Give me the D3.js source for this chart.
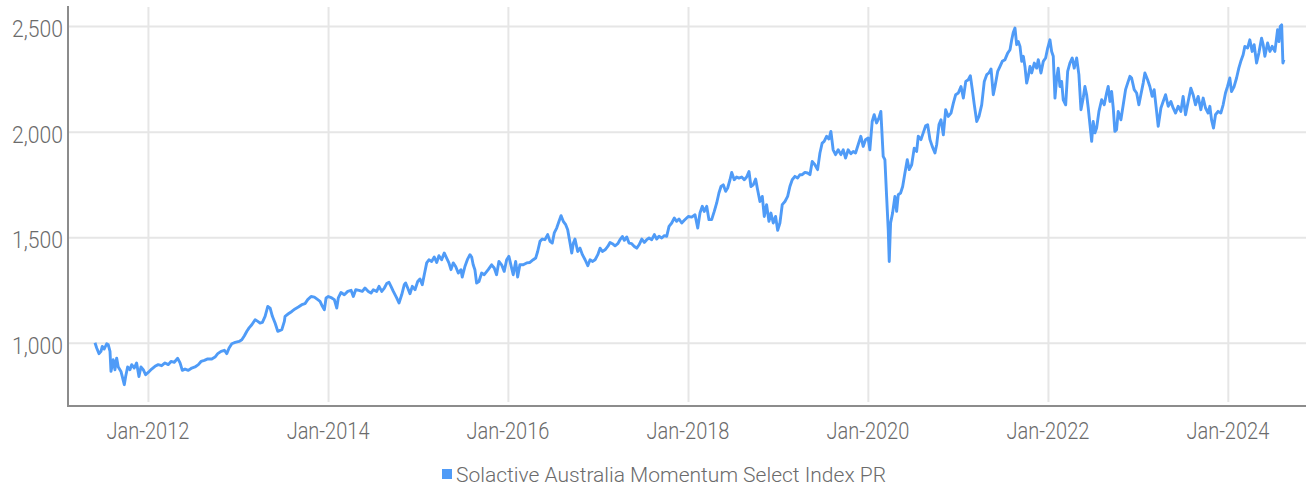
<!DOCTYPE html>
<html lang="en">
<head>
  <meta charset="UTF-8" />
  <title>Solactive Australia Momentum Select Index PR</title>
  <script src="https://d3js.org/d3.v7.min.js"></script>
  <style>
    body {
      margin: 0;
      background: #fff;
      font-family: Roboto, "Open Sans", sans-serif;
    }
    svg { display: block; background: #fff; }
    .grid line { stroke: #e6e6e6; stroke-width: 2px; }
    .axis-line { stroke: #8c8c8c; stroke-width: 2px; }
    .tick-label { font-size: 23px; font-weight: 300; fill: #6b6b6b; }
    .legend-label { font-size: 21px; font-weight: 300; fill: #6b6b6b; }
  </style>
</head>
<body>
  <svg width="1306" height="488"></svg>

  <script>
    // decimal years and index levels
    const years = [
      2011.411, 2011.430, 2011.456, 2011.478, 2011.492, 2011.514, 2011.541, 2011.559, 2011.578, 2011.589,
      2011.614, 2011.633, 2011.652, 2011.670, 2011.700, 2011.737, 2011.752, 2011.774, 2011.800, 2011.819,
      2011.848, 2011.874, 2011.900, 2011.922, 2011.948, 2011.974,
      2012.003, 2012.041, 2012.078, 2012.114, 2012.152, 2012.189, 2012.226, 2012.256, 2012.292, 2012.330,
      2012.356, 2012.381, 2012.411, 2012.448, 2012.486, 2012.522, 2012.559, 2012.589, 2012.626, 2012.663,
      2012.708, 2012.744, 2012.774, 2012.811, 2012.848, 2012.874, 2012.900, 2012.930, 2012.967,
      2013.011, 2013.041, 2013.070, 2013.097, 2013.122, 2013.152, 2013.189, 2013.219, 2013.244, 2013.270,
      2013.300, 2013.330, 2013.356, 2013.381, 2013.411, 2013.441, 2013.486, 2013.514, 2013.522, 2013.559,
      2013.597, 2013.633, 2013.670, 2013.708, 2013.744, 2013.774, 2013.811, 2013.848, 2013.886, 2013.911,
      2013.937, 2013.959, 2013.978,
      2014.003, 2014.041, 2014.070, 2014.097, 2014.114, 2014.144, 2014.181, 2014.219, 2014.256, 2014.281,
      2014.308, 2014.344, 2014.381, 2014.411, 2014.448, 2014.478, 2014.503, 2014.541, 2014.567, 2014.597,
      2014.626, 2014.652, 2014.678, 2014.700, 2014.726, 2014.763, 2014.789, 2014.819, 2014.848, 2014.863,
      2014.886, 2014.911, 2014.937, 2014.967, 2014.997,
      2015.022, 2015.048, 2015.070, 2015.097, 2015.122, 2015.152, 2015.181, 2015.208, 2015.233, 2015.263,
      2015.292, 2015.319, 2015.344, 2015.367, 2015.392, 2015.419, 2015.448, 2015.478, 2015.492, 2015.522,
      2015.552, 2015.578, 2015.597, 2015.614, 2015.633, 2015.652, 2015.678, 2015.708, 2015.737, 2015.781,
      2015.819, 2015.848, 2015.874, 2015.900, 2015.930, 2015.959, 2015.986,
      2016.011, 2016.033, 2016.059, 2016.086, 2016.108, 2016.133, 2016.170, 2016.208, 2016.244, 2016.281,
      2016.308, 2016.330, 2016.356, 2016.381, 2016.411, 2016.441, 2016.467, 2016.492, 2016.514, 2016.541,
      2016.567, 2016.589, 2016.614, 2016.641, 2016.663, 2016.689, 2016.708, 2016.726, 2016.744, 2016.774,
      2016.800, 2016.826, 2016.856, 2016.886, 2016.911, 2016.937, 2016.967, 2016.997,
      2017.022, 2017.048, 2017.078, 2017.108, 2017.133, 2017.159, 2017.189, 2017.219, 2017.244, 2017.270,
      2017.292, 2017.319, 2017.344, 2017.374, 2017.403, 2017.430, 2017.456, 2017.486, 2017.514, 2017.541,
      2017.567, 2017.597, 2017.626, 2017.652, 2017.678, 2017.708, 2017.737, 2017.763, 2017.789, 2017.819,
      2017.848, 2017.874, 2017.900, 2017.930, 2017.959,
      2018.003, 2018.041, 2018.078, 2018.108, 2018.133, 2018.159, 2018.181, 2018.208, 2018.233, 2018.263,
      2018.292, 2018.319, 2018.344, 2018.367, 2018.392, 2018.419, 2018.441, 2018.467, 2018.486, 2018.514,
      2018.541, 2018.567, 2018.597, 2018.626, 2018.652, 2018.678, 2018.700, 2018.726, 2018.752, 2018.774,
      2018.800, 2018.826, 2018.848, 2018.874, 2018.900, 2018.922, 2018.948, 2018.974, 2018.997,
      2019.022, 2019.048, 2019.078, 2019.108, 2019.133, 2019.159, 2019.189, 2019.219, 2019.244, 2019.270,
      2019.300, 2019.330, 2019.356, 2019.381, 2019.411, 2019.441, 2019.467, 2019.492, 2019.514, 2019.541,
      2019.567, 2019.589, 2019.614, 2019.641, 2019.670, 2019.700, 2019.726, 2019.752, 2019.781, 2019.811,
      2019.837, 2019.863, 2019.892, 2019.922, 2019.948, 2019.974,
      2020.003, 2020.022, 2020.048, 2020.070, 2020.097, 2020.122, 2020.144, 2020.170, 2020.189, 2020.208,
      2020.226, 2020.237, 2020.252, 2020.274, 2020.300, 2020.319, 2020.337, 2020.363, 2020.386, 2020.411,
      2020.437, 2020.459, 2020.486, 2020.514, 2020.541, 2020.559, 2020.589, 2020.614, 2020.641, 2020.663,
      2020.689, 2020.714, 2020.744, 2020.763, 2020.789, 2020.811, 2020.837, 2020.863, 2020.892, 2020.922,
      2020.948, 2020.974,
      2021.003, 2021.033, 2021.059, 2021.086, 2021.114, 2021.137, 2021.159, 2021.181, 2021.208, 2021.233,
      2021.263, 2021.292, 2021.319, 2021.344, 2021.367, 2021.392, 2021.411, 2021.441, 2021.467, 2021.492,
      2021.522, 2021.552, 2021.578, 2021.597, 2021.614, 2021.633, 2021.652, 2021.670, 2021.689, 2021.708,
      2021.726, 2021.744, 2021.763, 2021.781, 2021.800, 2021.819, 2021.848, 2021.874, 2021.892, 2021.922,
      2021.948, 2021.974, 2021.997,
      2022.022, 2022.041, 2022.059, 2022.078, 2022.097, 2022.114, 2022.133, 2022.152, 2022.170, 2022.197,
      2022.219, 2022.244, 2022.270, 2022.292, 2022.319, 2022.344, 2022.367, 2022.392, 2022.411, 2022.430,
      2022.448, 2022.467, 2022.486, 2022.503, 2022.522, 2022.541, 2022.567, 2022.597, 2022.626, 2022.652,
      2022.670, 2022.689, 2022.708, 2022.726, 2022.744, 2022.763, 2022.781, 2022.811, 2022.837, 2022.863,
      2022.886, 2022.911, 2022.930, 2022.959, 2022.986,
      2023.011, 2023.033, 2023.059, 2023.078, 2023.108, 2023.133, 2023.159, 2023.181, 2023.208, 2023.226,
      2023.256, 2023.281, 2023.308, 2023.337, 2023.367, 2023.392, 2023.419, 2023.448, 2023.478, 2023.503,
      2023.530, 2023.559, 2023.589, 2023.614, 2023.641, 2023.670, 2023.700, 2023.726, 2023.752, 2023.781,
      2023.800, 2023.819, 2023.841, 2023.863, 2023.892, 2023.922, 2023.948, 2023.974, 2023.997,
      2024.022, 2024.041, 2024.070, 2024.097, 2024.122, 2024.144, 2024.170, 2024.189, 2024.219, 2024.244,
      2024.270, 2024.292, 2024.319, 2024.344, 2024.374, 2024.392, 2024.411, 2024.441, 2024.467, 2024.492,
      2024.522, 2024.552, 2024.567, 2024.581, 2024.597, 2024.611, 2024.622
    ];

    const values = [
      1000, 975, 948, 959, 982, 970, 995, 990, 959, 864,
      919, 872, 927, 885, 864, 801, 840, 885, 872, 896,
      880, 904, 840, 885, 872, 848,
      859, 875, 888, 896, 891, 904, 896, 911, 907, 926,
      904, 869, 875, 869, 880, 885, 896, 911, 916, 923,
      923, 932, 948, 959, 964, 948, 975, 995, 1001,
      1006, 1014, 1033, 1054, 1070, 1085, 1109, 1101, 1093, 1096,
      1125, 1172, 1164, 1125, 1093, 1054, 1062, 1101, 1125, 1137,
      1148, 1160, 1169, 1180, 1185, 1204, 1219, 1216, 1204, 1196,
      1172, 1156, 1212,
      1219, 1212, 1204, 1164, 1212, 1238, 1227, 1243, 1248, 1219,
      1251, 1248, 1243, 1259, 1243, 1235, 1251, 1243, 1267, 1243,
      1259, 1280, 1286, 1267, 1243, 1212, 1188, 1227, 1275, 1283,
      1259, 1232, 1267, 1251, 1290,
      1302, 1275, 1322, 1378, 1393, 1385, 1406, 1380, 1412, 1393,
      1425, 1401, 1378, 1346, 1378, 1361, 1330, 1346, 1311, 1361,
      1396, 1417, 1406, 1369, 1346, 1283, 1290, 1330, 1322, 1346,
      1369, 1354, 1322, 1385, 1369, 1338, 1393,
      1409, 1369, 1322, 1385, 1311, 1369, 1369, 1378, 1380, 1393,
      1401, 1432, 1480, 1491, 1488, 1512, 1480, 1472, 1520, 1543,
      1575, 1602, 1575, 1559, 1535, 1472, 1425, 1472, 1491, 1432,
      1448, 1417, 1393, 1365, 1393, 1385, 1393, 1417,
      1448, 1432, 1440, 1456, 1475, 1469, 1459, 1469, 1488, 1503,
      1485, 1501, 1472, 1469, 1456, 1448, 1464, 1491, 1475, 1488,
      1496, 1488, 1512, 1491, 1504, 1496, 1507, 1504, 1551, 1567,
      1591, 1575, 1586, 1567, 1580,
      1598, 1595, 1606, 1543, 1614, 1646, 1622, 1646, 1583, 1583,
      1622, 1662, 1709, 1740, 1748, 1717, 1733, 1772, 1807, 1772,
      1785, 1780, 1785, 1772, 1785, 1811, 1740, 1748, 1775, 1725,
      1669, 1693, 1598, 1654, 1575, 1614, 1567, 1598, 1532,
      1567, 1654, 1669, 1693, 1740, 1772, 1788, 1780, 1796, 1796,
      1807, 1804, 1796, 1859, 1843, 1820, 1899, 1946, 1954, 1978,
      1965, 2001, 1914, 1891, 1914, 1891, 1914, 1875, 1914, 1895,
      1906, 1899, 1938, 1978, 1930, 1962,
      1970, 1914, 2048, 2080, 2041, 2064, 2096, 1883, 1867, 1693,
      1535, 1385, 1567, 1614, 1693, 1622, 1701, 1709, 1740, 1804,
      1867, 1820, 1843, 1922, 1906, 1978, 1962, 1994, 2028, 2033,
      1962, 1930, 1899, 1938, 2033, 2056, 1985, 2104, 2072, 2088,
      2135, 2175,
      2183, 2214, 2159, 2238, 2246, 2265, 2199, 2127, 2048, 2072,
      2127, 2238, 2270, 2278, 2297, 2175, 2214, 2285, 2309, 2333,
      2341, 2372, 2388, 2435, 2470, 2491, 2412, 2427, 2404, 2333,
      2357, 2309, 2230, 2262, 2309, 2278, 2325, 2301, 2341, 2278,
      2333, 2349, 2396,
      2435, 2380, 2357, 2159, 2254, 2301, 2214, 2238, 2151, 2127,
      2285, 2325, 2349, 2301, 2349, 2270, 2104, 2159, 2214, 2175,
      2112, 2033, 1954, 2048, 1994, 2017, 2096, 2151, 2127, 2183,
      2214, 2143, 2190, 2112, 2001, 2009, 2096, 2056, 2127, 2199,
      2230, 2262, 2254, 2199, 2183,
      2127, 2175, 2230, 2278, 2246, 2214, 2167, 2199, 2096, 2025,
      2112, 2143, 2175, 2120, 2143, 2112, 2088, 2120, 2096, 2167,
      2080, 2143, 2206, 2175, 2127, 2167, 2104, 2159, 2112, 2088,
      2120, 2056, 2017, 2080, 2096, 2088, 2127, 2183, 2214,
      2254, 2190, 2214, 2254, 2301, 2333, 2364, 2404, 2396, 2435,
      2380, 2412, 2325, 2372, 2443, 2412, 2357, 2420, 2380, 2404,
      2380, 2483, 2427, 2498, 2506, 2325, 2341
    ];

    const tickYears = [2012, 2014, 2016, 2018, 2020, 2022, 2024];
    const yTicks = [1000, 1500, 2000, 2500];
    const seriesName = "Solactive Australia Momentum Select Index PR";

    function decToDate(v) {
      const yr = Math.floor(v);
      const a = new Date(yr, 0, 1), b = new Date(yr + 1, 0, 1);
      return new Date(+a + (v - yr) * (b - a));
    }

    const data = years.map((yv, i) => ({ date: decToDate(yv), value: values[i] }));

    const svg = d3.select("svg");
    const plotLeft = 68, plotRight = 1306, plotTop = 5, plotBottom = 406;
    const lineColor = "#4f9bf7";

    const x = d3.scaleTime()
      .domain([decToDate(2011.111), decToDate(2024.867)])
      .range([plotLeft, plotRight]);

    const y = d3.scaleLinear()
      .domain([700, 2600])
      .range([plotBottom, plotTop]);

    const tickDates = tickYears.map(t => new Date(t, 0, 1));

    // horizontal grid
    svg.append("g")
      .attr("class", "grid")
      .attr("transform", `translate(${plotLeft},0)`)
      .call(d3.axisLeft(y).tickValues(yTicks).tickSize(-(plotRight - plotLeft)).tickFormat(""))
      .call(g => g.select(".domain").remove());

    // vertical grid
    svg.append("g")
      .attr("class", "grid")
      .attr("transform", `translate(0,${plotBottom - 4})`)
      .call(d3.axisBottom(x).tickValues(tickDates).tickSize(-(plotBottom - 4 - 7)).tickFormat(""))
      .call(g => g.select(".domain").remove());

    // axis lines
    svg.append("line").attr("class", "axis-line")
      .attr("x1", plotLeft).attr("x2", plotLeft).attr("y1", 6).attr("y2", plotBottom + 1);
    svg.append("line").attr("class", "axis-line")
      .attr("x1", plotLeft - 1).attr("x2", plotRight).attr("y1", plotBottom).attr("y2", plotBottom);

    // series
    const line = d3.line()
      .x(d => x(d.date))
      .y(d => y(d.value));

    svg.append("path")
      .datum(data)
      .attr("fill", "none")
      .attr("stroke", lineColor)
      .attr("stroke-width", 2.9)
      .attr("stroke-linejoin", "round")
      .attr("d", line);

    // x labels
    const fmtDate = d3.timeFormat("%b-%Y");
    svg.selectAll(".x-label")
      .data(tickDates)
      .enter()
      .append("text")
      .attr("class", "tick-label")
      .attr("text-anchor", "middle")
      .attr("transform", d => `translate(${x(d)},439) scale(0.87,1)`)
      .text(d => fmtDate(d));

    // y labels
    svg.selectAll(".y-label")
      .data(yTicks)
      .enter()
      .append("text")
      .attr("class", "tick-label")
      .attr("text-anchor", "end")
      .attr("transform", d => `translate(63,${y(d) + 11}) scale(0.92,1)`)
      .text(d3.format(","));

    // legend
    svg.append("rect")
      .attr("x", 442).attr("y", 469)
      .attr("width", 10).attr("height", 10)
      .attr("fill", lineColor);

    svg.append("text")
      .attr("class", "legend-label")
      .attr("x", 456).attr("y", 482)
      .text(seriesName);
  </script>
</body>
</html>
